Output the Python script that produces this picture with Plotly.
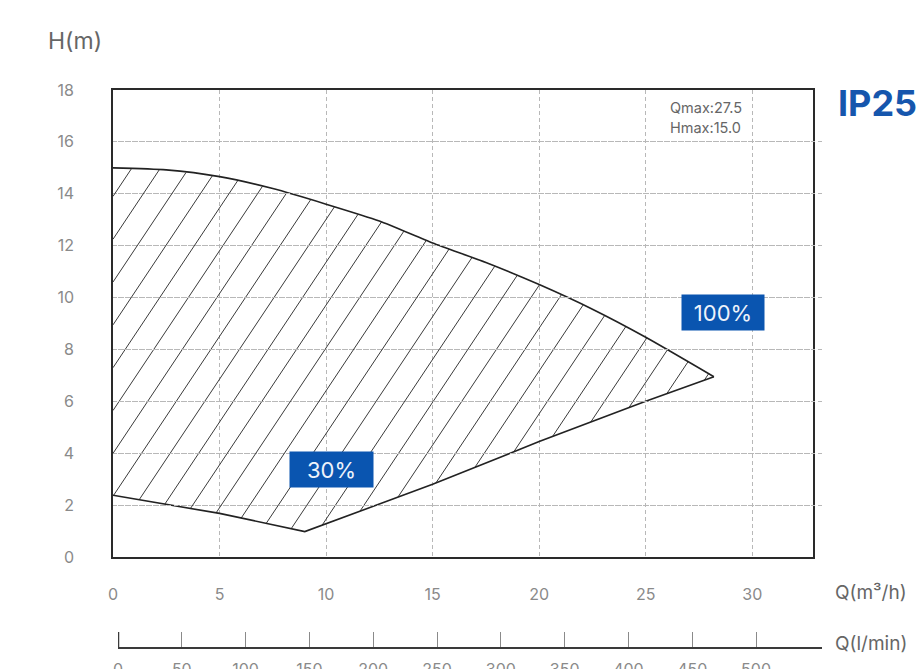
import numpy as np
import plotly.graph_objects as go

# ---- data ----
upper_q = [0, 2.5, 5, 7.5, 10, 12.5, 15, 17.5, 20, 22.5, 25, 28.2]
upper_h = [15.0, 14.92, 14.66, 14.2, 13.6, 12.95, 12.1, 11.35, 10.5, 9.55, 8.47, 6.95]
lower_q = [0, 5, 9, 15, 20, 25, 28.2]
lower_h = [2.38, 1.68, 0.98, 2.8, 4.45, 6.0, 6.95]

x_ticks = [0, 5, 10, 15, 20, 25, 30]
y_ticks = [0, 2, 4, 6, 8, 10, 12, 14, 16, 18]
lmin_ticks = [0, 50, 100, 150, 200, 250, 300, 350, 400, 450, 500]

label_100 = "100%"
label_30 = "30%"
model = "IP25"
qmax_txt = "Qmax:27.5"
hmax_txt = "Hmax:15.0"

# ---- geometry ----
W, H = 924, 669
ML, MR, MT, MB = 113, 102, 90, 21
PW = W - ML - MR   # 709
PH = H - MT - MB   # 558
plot_right = 813
plot_bottom = 557
x_dom = [0, (plot_right - ML) / PW]
y_dom = [(MT + PH - plot_bottom) / PH, 1]
x_range = [0, 32.85]
y_range = [0, 18]
x2_dom = [(118 - ML) / PW, 1]
x2_range = [0, 551.7]

def px(xp):
    return (xp - ML) / PW

def py(yp):
    return (MT + PH - yp) / PH

# ---- hatching (clipped to the region between the curves) ----
px_per_q = (plot_right - ML) / (x_range[1] - x_range[0])
px_per_h = (plot_bottom - MT) / (y_range[1] - y_range[0])
m = 1.5 * px_per_q / px_per_h          # hatch slope in data units
spacing = 1.34                          # horizontal spacing in Q units
phase_h = 13.9                          # a hatch line crosses Q=0 here
c0 = -phase_h / m
qq = np.linspace(0, max(upper_q), 6000)
up = np.interp(qq, upper_q, upper_h)
lo = np.interp(qq, lower_q, lower_h)
hx, hy = [], []
k_min = int(np.floor((-(max(upper_h) + 1) / m - c0) / spacing)) - 1
k_max = int(np.ceil((max(upper_q) - c0) / spacing)) + 1
for k in range(k_min, k_max + 1):
    c = c0 + k * spacing
    hh = m * (qq - c)
    inside = (hh >= lo) & (hh <= up)
    if inside.sum() < 2:
        continue
    idx = np.where(inside)[0]
    i1, i2 = idx[0], idx[-1]
    hx += [qq[i1], qq[i2], None]
    hy += [hh[i1], hh[i2], None]

fig = go.Figure()
fig.add_trace(go.Scatter(x=hx, y=hy, mode="lines",
                         line=dict(color="#3a3a3a", width=1), hoverinfo="skip"))
fig.add_trace(go.Scatter(x=upper_q, y=upper_h, mode="lines",
                         line=dict(color="#222", width=1.6, shape="spline", smoothing=0.6)))
fig.add_trace(go.Scatter(x=lower_q, y=lower_h, mode="lines",
                         line=dict(color="#222", width=1.6)))
# anchor trace for the secondary (l/min) axis
fig.add_trace(go.Scatter(x=[lmin_ticks[0], lmin_ticks[-1]], y=[None, None],
                         xaxis="x2", yaxis="y", mode="lines", hoverinfo="skip"))

FONT = "Inter, Lato, sans-serif"
tick_font = dict(family=FONT, size=16, color="#8a8a8a")

fig.update_layout(
    width=W, height=H,
    template="none",
    margin=dict(l=ML, r=MR, t=MT, b=MB, pad=0, autoexpand=False),
    paper_bgcolor="white", plot_bgcolor="rgba(0,0,0,0)",
    showlegend=False,
    xaxis=dict(domain=x_dom, range=x_range, anchor="y", tickmode="array",
               tickvals=x_ticks, ticktext=[str(v) for v in x_ticks],
               showgrid=True, gridcolor="#b8b8b8", griddash="4px,3px", gridwidth=1,
               showline=True, linecolor="#2a2a2a", linewidth=1.6, mirror=True,
               ticks="", ticklabelstandoff=22, tickfont=tick_font,
               zeroline=False, automargin=False),
    yaxis=dict(domain=y_dom, range=y_range, anchor="x", tickmode="array",
               tickvals=y_ticks, ticktext=[str(v) for v in y_ticks],
               showgrid=True, gridcolor="#b8b8b8", griddash="4px,3px", gridwidth=1,
               showline=True, linecolor="#2a2a2a", linewidth=1.6, mirror=True,
               ticks="", ticklabelstandoff=34, tickfont=tick_font,
               zeroline=False, automargin=False),
    xaxis2=dict(domain=x2_dom, range=x2_range, anchor="free", position=0,
                tickmode="array", tickvals=lmin_ticks,
                ticktext=[str(v) for v in lmin_ticks],
                showgrid=False, zeroline=False,
                showline=True, linecolor="#3a3a3a", linewidth=1.6,
                ticks="inside", ticklen=15, tickwidth=1, tickcolor="#8a8a8a",
                ticklabelstandoff=7, tickfont=tick_font, automargin=False),
)

# thicker start tick of the l/min axis
fig.add_shape(type="line", xref="x2", yref="paper", x0=lmin_ticks[0], x1=lmin_ticks[0],
              y0=0, y1=16 / PH, line=dict(color="#3a3a3a", width=2.5))

ann_font = dict(family=FONT, color="#666666")
fig.add_annotation(xref="paper", yref="paper", x=px(75), y=py(41),
                   text="H(m)", showarrow=False, xanchor="center", yanchor="middle",
                   font=dict(ann_font, size=23))
fig.add_annotation(xref="paper", yref="paper", x=px(833), y=py(592),
                   text="Q(m³/h)", showarrow=False, xanchor="left", yanchor="middle",
                   font=dict(ann_font, size=19))
fig.add_annotation(xref="paper", yref="paper", x=px(833), y=py(643),
                   text="Q(l/min)", showarrow=False, xanchor="left", yanchor="middle",
                   font=dict(ann_font, size=19))
fig.add_annotation(xref="paper", yref="paper", x=px(836), y=py(103),
                   text="<b>" + model + "</b>", showarrow=False, xanchor="left", yanchor="middle",
                   font=dict(family=FONT, size=36, color="#1656ad"))
fig.add_annotation(xref="paper", yref="paper", x=px(668), y=py(107),
                   text=qmax_txt, showarrow=False, xanchor="left", yanchor="middle",
                   font=dict(ann_font, size=14.5))
fig.add_annotation(xref="paper", yref="paper", x=px(668), y=py(128),
                   text=hmax_txt, showarrow=False, xanchor="left", yanchor="middle",
                   font=dict(ann_font, size=14.5))

box_font = dict(family=FONT, size=22, color="#eef3fb")
fig.add_annotation(xref="paper", yref="paper", x=px(722.5), y=py(312.5),
                   text=label_100, showarrow=False, xanchor="center", yanchor="middle",
                   bgcolor="#0a55b0", width=76, height=29, borderpad=3,
                   font=box_font)
fig.add_annotation(xref="paper", yref="paper", x=px(331.5), y=py(469.5),
                   text=label_30, showarrow=False, xanchor="center", yanchor="middle",
                   bgcolor="#0a55b0", width=77, height=29, borderpad=3,
                   font=box_font)

fig.write_html("out.html", config={"displayModeBar": False},
               post_script="document.body.style.margin='0px';")
